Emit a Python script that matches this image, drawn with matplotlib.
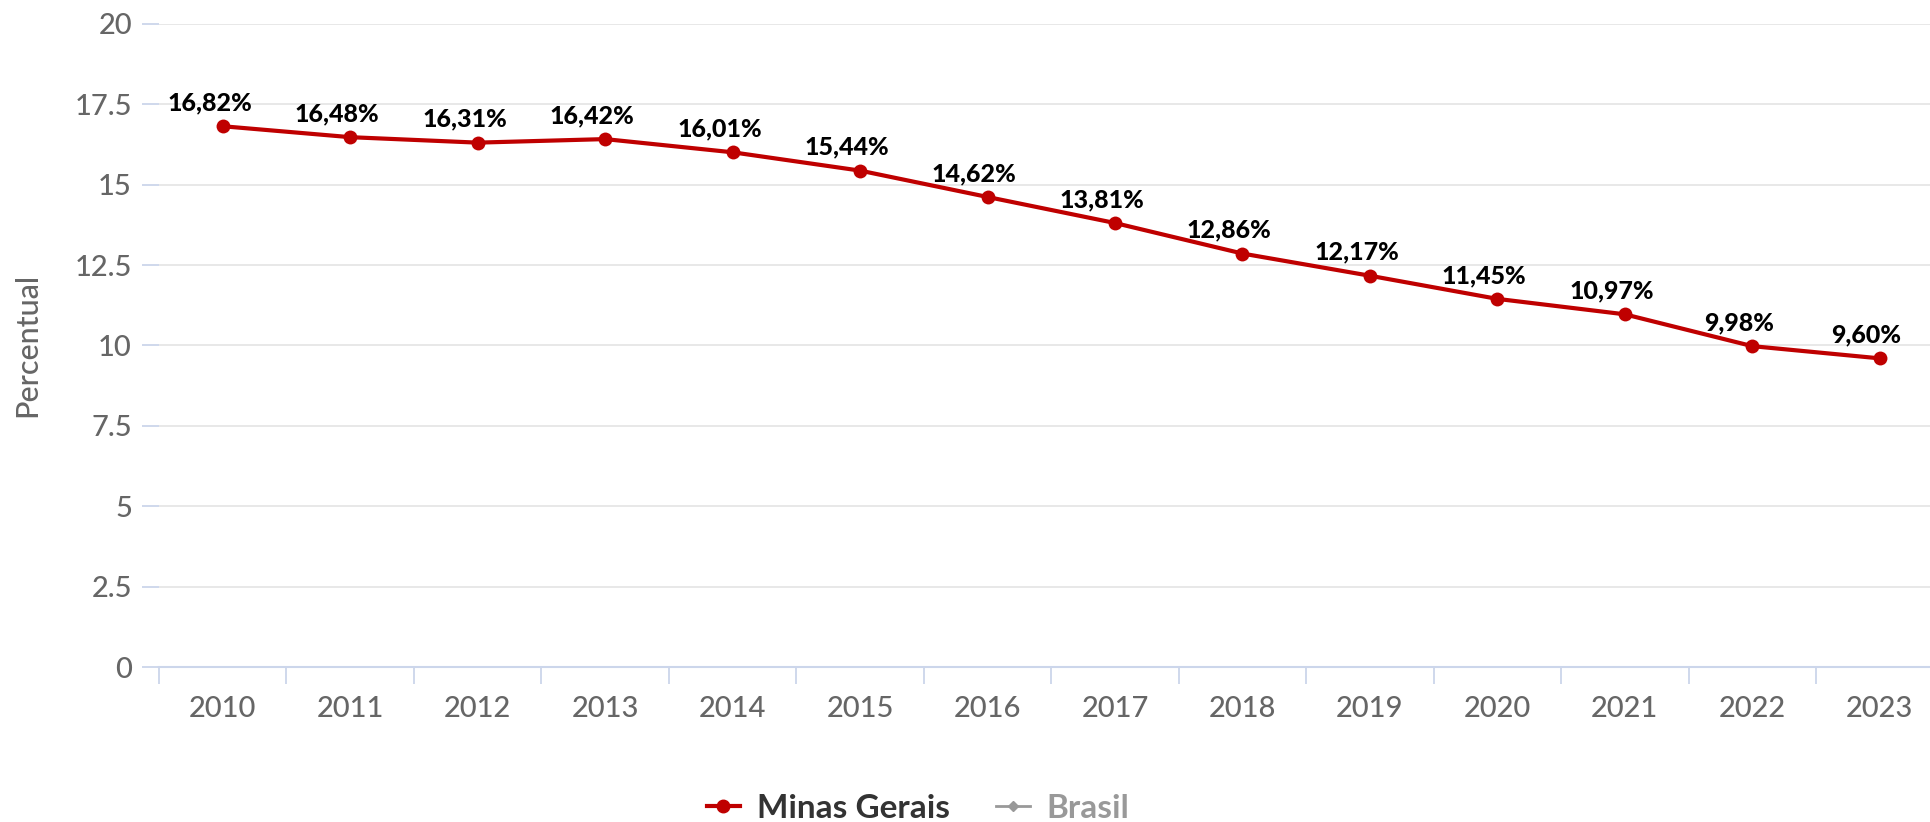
import matplotlib
matplotlib.use("Agg")
import matplotlib.pyplot as plt
from matplotlib.lines import Line2D
from matplotlib.ticker import FixedLocator

plt.rcParams['font.family'] = ['Lato', 'DejaVu Sans']

years = ["2010", "2011", "2012", "2013", "2014", "2015", "2016",
         "2017", "2018", "2019", "2020", "2021", "2022", "2023"]
minas_gerais = [16.82, 16.48, 16.31, 16.42, 16.01, 15.44, 14.62,
                13.81, 12.86, 12.17, 11.45, 10.97, 9.98, 9.60]
y_ticks = [0, 2.5, 5, 7.5, 10, 12.5, 15, 17.5, 20]
y_tick_labels = ["0", "2.5", "5", "7.5", "10", "12.5", "15", "17.5", "20"]
series_names = ["Minas Gerais", "Brasil"]
y_title = "Percentual"

RED = "#bf0000"
GRID = "#e6e6e6"
AXIS = "#ccd6eb"
TICKTXT = "#666666"

W, H = 1930, 822
fig = plt.figure(figsize=(W / 100, H / 100), dpi=100)
left_px, right_px = 159, 1930
bottom_px, top_px = 667, 24
ax = fig.add_axes([left_px / W, (H - bottom_px) / H,
                   (right_px - left_px) / W, (bottom_px - top_px) / H])

x = list(range(len(years)))
cat_w = (1816 - 159) / 13.0
ax.set_xlim(-0.5, -0.5 + (right_px - left_px) / cat_w)
ax.set_ylim(0, 20)

ax.plot(x, minas_gerais, color=RED, lw=3, marker='o', ms=10,
        markeredgewidth=0, zorder=3, clip_on=False)

for xi, v in zip(x, minas_gerais):
    lbl = f"{v:.2f}".replace(".", ",") + "%"
    ax.annotate(lbl, (xi, v), xytext=(-9.5, 11.5), textcoords='offset points',
                ha='center', va='baseline', fontsize=18, fontweight='black',
                color='#000000', zorder=4)

# grid
ax.set_yticks(y_ticks)
ax.set_yticklabels(y_tick_labels)
ax.grid(axis='y', color=GRID, lw=1.3, zorder=0)
ax.grid(axis='x', visible=False)

for s in ['top', 'right', 'left']:
    ax.spines[s].set_visible(False)
ax.spines['bottom'].set_color(AXIS)
ax.spines['bottom'].set_linewidth(1.5)

ax.tick_params(axis='y', length=12.5, width=1.3, color=AXIS, pad=7,
               labelsize=21, labelcolor=TICKTXT)

ax.set_xticks(x)
ax.set_xticklabels(years)
ax.xaxis.set_minor_locator(FixedLocator([i - 0.5 for i in range(len(years) + 1)]))
ax.tick_params(axis='x', which='major', length=0, pad=21,
               labelsize=21, labelcolor=TICKTXT)
ax.tick_params(axis='x', which='minor', length=12.5, width=1.3, color=AXIS)
for t in ax.get_xticklabels() + ax.get_yticklabels():
    t.set_fontweight('medium')

fig.text(27 / W, 1 - 345 / H, y_title, rotation=90, ha='center', va='center',
         fontsize=22, color=TICKTXT, fontweight='medium')

handles = [
    Line2D([], [], color=RED, lw=3, marker='o', ms=9),
    Line2D([], [], color='#999999', lw=2, marker='D', ms=5),
]
leg = fig.legend(handles, series_names, loc='center', ncol=2,
                 bbox_to_anchor=(918 / W, 1 - 808 / H), frameon=False,
                 handlelength=1.0, handletextpad=0.5, columnspacing=1.4,
                 prop={'size': 24, 'weight': 'bold'})
leg.get_texts()[0].set_color('#333333')
leg.get_texts()[1].set_color('#999999')

fig.savefig("out.png", dpi=100)
